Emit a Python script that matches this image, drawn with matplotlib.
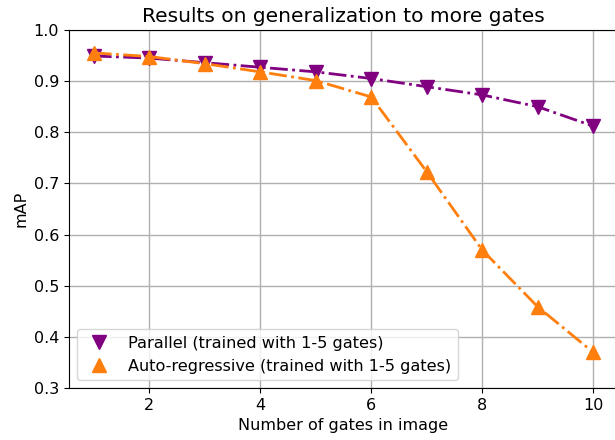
import numpy as np
import matplotlib
matplotlib.use("Agg")
import matplotlib.pyplot as plt

gates = [1, 2, 3, 4, 5, 6, 7, 8, 9, 10]
parallel = [0.949, 0.945, 0.936, 0.927, 0.918, 0.905, 0.889, 0.873, 0.850, 0.812]
autoreg = [0.955, 0.948, 0.934, 0.918, 0.901, 0.869, 0.723, 0.570, 0.459, 0.370]

plt.rcParams['font.size'] = 11.5

fig = plt.figure(figsize=(6.15, 4.4), dpi=100)
# axes run slightly past the right edge, like the cropped original
ax = fig.add_axes([0.112, 0.118, 0.893, 0.814])

ax.plot(gates, parallel, '-.', color='purple', linewidth=2)
ax.plot(gates, parallel, 'v', color='purple', markersize=10, label='Parallel (trained with 1-5 gates)')
ax.plot(gates, autoreg, '-.', color='tab:orange', linewidth=2)
ax.plot(gates, autoreg, '^', color='tab:orange', markersize=10, label='Auto-regressive (trained with 1-5 gates)')

ax.set_ylim(0.3, 1.0)
ax.set_xticks([2, 4, 6, 8, 10])
ax.grid(True, linewidth=1)
ax.set_xlabel('Number of gates in image')
ax.set_ylabel('mAP')
ax.set_title('Results on generalization to more gates', fontsize=14.5)
ax.legend(loc='lower left', fontsize=11.6)

fig.savefig('out.png', dpi=100)
